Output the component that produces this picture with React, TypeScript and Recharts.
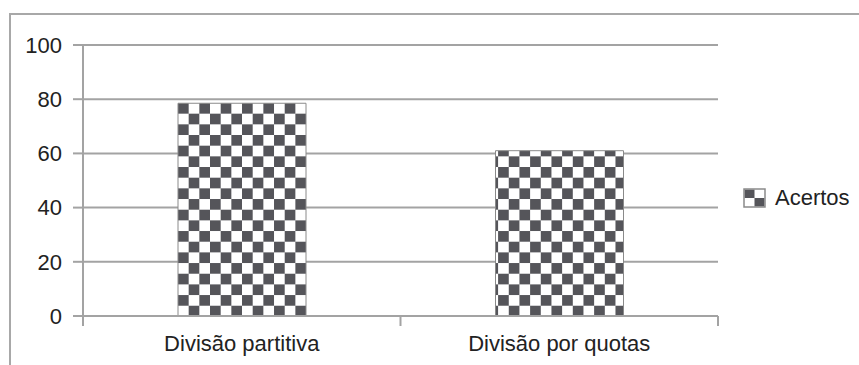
import React from 'react';
import { BarChart, Bar, XAxis, YAxis, CartesianGrid, Legend } from 'recharts';

const categories = ['Divisão partitiva', 'Divisão por quotas'];
const acertos = [78.5, 61];
const yTicks = [0, 20, 40, 60, 80, 100];
const seriesName = 'Acertos';

const data = categories.map((c, i) => ({ name: c, acertos: acertos[i] }));

const FONT = '"Liberation Sans", Arial, sans-serif';
const GRID = '#a3a3a3';
const DARK = '#55555a';
const CELL = 10.67;
const FS = 22;

const XTick = (props: any) => {
  const { x, y, payload, index, visibleTicksCount } = props;
  const off = payload.offset || 0;
  const isLast = index === visibleTicksCount - 1;
  return (
    <g>
      <line x1={x - off} x2={x - off} y1={y - 8} y2={y + 2} stroke={GRID} strokeWidth={2} />
      {isLast && <line x1={x + off} x2={x + off} y1={y - 8} y2={y + 2} stroke={GRID} strokeWidth={2} />}
      <text x={x} y={y + 27} textAnchor="middle" fontSize={FS} fill="#222" fontFamily={FONT}>
        {payload.value}
      </text>
    </g>
  );
};

const LegendContent = () => (
  <div style={{ display: 'flex', alignItems: 'center', fontFamily: FONT, fontSize: FS, color: '#222' }}>
    <svg width={23} height={20} style={{ marginRight: 9 }}>
      <rect x={1} y={1} width={21} height={18} fill="#fff" stroke="#8a8a8a" strokeWidth={1.5} />
      <rect x={1.75} y={1.75} width={9.75} height={8.25} fill={DARK} />
      <rect x={11.5} y={10} width={9.75} height={8.25} fill={DARK} />
    </svg>
    <span>{seriesName}</span>
  </div>
);

export default function App() {
  return (
    <div style={{ position: 'absolute', left: 0, top: 0, width: 859, height: 365, overflow: 'hidden', background: '#fff' }}>
      <div
        style={{
          position: 'absolute',
          left: 9,
          top: 13,
          width: 860,
          height: 360,
          borderLeft: '2px solid #a8a8a8',
          borderTop: '2px solid #a8a8a8',
        }}
      />
      <div style={{ position: 'absolute', left: 0, top: 0 }}>
        <BarChart
          width={859}
          height={365}
          data={data}
          margin={{ top: 45, right: 141, bottom: 0, left: 0 }}
          barSize={128}
        >
          <defs>
            <pattern id="checker" patternUnits="userSpaceOnUse" x={178} y={103} width={CELL * 2} height={CELL * 2}>
              <rect x={0} y={0} width={CELL * 2} height={CELL * 2} fill="#fff" />
              <rect x={0} y={0} width={CELL} height={CELL} fill={DARK} />
              <rect x={CELL} y={CELL} width={CELL} height={CELL} fill={DARK} />
            </pattern>
          </defs>
          <CartesianGrid vertical={false} stroke={GRID} strokeWidth={2} />
          <XAxis
            dataKey="name"
            height={49}
            axisLine={{ stroke: GRID, strokeWidth: 2 }}
            tickLine={false}
            tick={<XTick />}
            interval={0}
          />
          <YAxis
            width={83}
            domain={[0, 100]}
            ticks={yTicks}
            interval={0}
            axisLine={{ stroke: GRID, strokeWidth: 2 }}
            tickLine={{ stroke: GRID, strokeWidth: 2 }}
            tickSize={10}
            tickMargin={11}
            tick={{ fontSize: FS, fill: '#222', fontFamily: FONT }}
          />
          <Legend
            layout="horizontal"
            verticalAlign="middle"
            align="center"
            content={<LegendContent />}
            wrapperStyle={{ left: 743, top: 185, width: 'auto' }}
          />
          <Bar
            dataKey="acertos"
            name={seriesName}
            fill="url(#checker)"
            stroke="#8a8a8a"
            strokeWidth={1}
            isAnimationActive={false}
          />
        </BarChart>
      </div>
    </div>
  );
}
